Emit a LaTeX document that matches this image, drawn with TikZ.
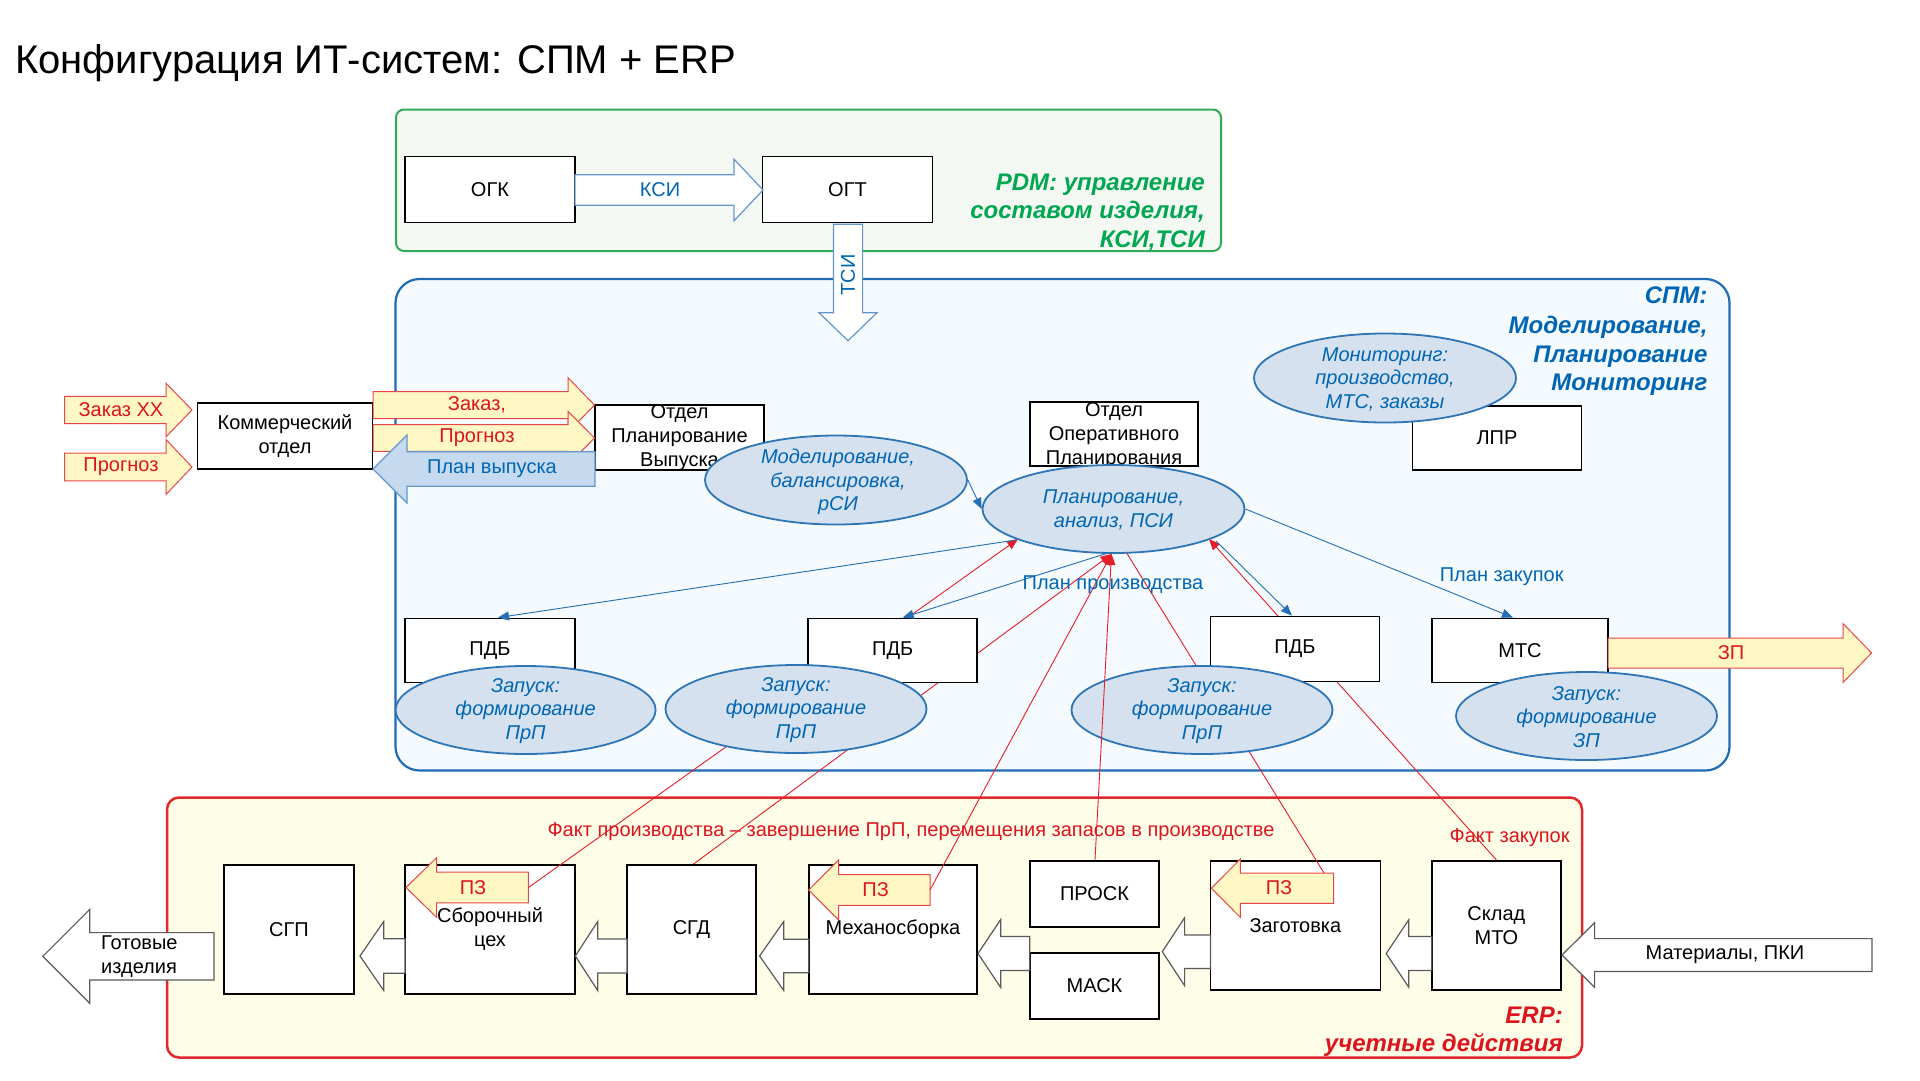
\documentclass[tikz,border=0pt]{standalone}
\usepackage{fontspec}
\setmainfont{Liberation Sans}
\usetikzlibrary{shapes.geometric,arrows.meta}
\definecolor{spmblue}{RGB}{0,102,179}
\definecolor{spmline}{RGB}{31,108,180}
\definecolor{spmfill}{RGB}{245,250,254}
\definecolor{ellfill}{RGB}{214,225,240}
\definecolor{ellline}{RGB}{46,117,182}
\definecolor{pdmline}{RGB}{50,170,90}
\definecolor{pdmfill}{RGB}{243,248,243}
\definecolor{pdmtext}{RGB}{0,166,80}
\definecolor{erpline}{RGB}{225,40,45}
\definecolor{erpfill}{RGB}{254,253,232}
\definecolor{erptext}{RGB}{220,20,30}
\definecolor{yarrow}{RGB}{255,248,196}
\definecolor{yline}{RGB}{230,70,70}
\definecolor{barrowfill}{RGB}{197,217,239}
\definecolor{barrowline}{RGB}{100,150,205}
\definecolor{grayline}{RGB}{90,90,90}
\definecolor{rcon}{RGB}{230,30,40}
\definecolor{bcon}{RGB}{35,110,180}
\newcommand\fs[2]{\fontsize{#1}{#2}\selectfont}
\newcommand\blkarrow[7]{\path[#1] (#2,#5-#6) -- (#3,#5-#6) -- (#3,#5-#7) -- (#4,#5) -- (#3,#5+#7) -- (#3,#5+#6) -- (#2,#5+#6) -- cycle;}
\tikzset{
 box/.style={draw=black, line width=1.8pt, fill=white, inner sep=0pt, align=center, font=\fs{20}{24}},
 ell/.style={ellipse, draw=ellline, line width=1.8pt, fill=ellfill, inner sep=0pt},
 elltext/.style={align=center, text=spmblue, font=\fs{20}{23.5}\itshape, inner sep=0pt},
 yarr/.style={draw=yline, line width=1pt, fill=yarrow},
 barr/.style={draw=barrowline, line width=1.2pt, fill=barrowfill},
 warr/.style={draw=barrowline, line width=1.2pt, fill=white},
 garr/.style={draw=grayline, line width=1.2pt, fill=white},
 redlbl/.style={text=erptext, font=\fs{20}{24}, inner sep=0pt},
 bluelbl/.style={text=spmblue, font=\fs{20}{24}, inner sep=0pt},
 blacklbl/.style={text=black, font=\fs{20}{24}, inner sep=0pt},
 redline/.style={draw=rcon, line width=0.9pt},
 redarr/.style={draw=rcon, line width=0.9pt, -{Triangle[length=11pt,width=9pt]}},
 bluearr/.style={draw=bcon, line width=0.9pt, -{Triangle[length=11pt,width=9pt]}},
 hdr/.style={font=\fs{24}{29}\bfseries\itshape, inner sep=0pt, anchor=base east},
}
\begin{document}
\begin{tikzpicture}[x=1pt,y=-1pt]
\useasboundingbox[fill=white] (0,0) rectangle (1920,1080);
\node[anchor=base west, font=\fs{40}{46}, inner sep=0pt] (title) at (15,73) {Конфигурация ИТ-систем: СПМ + ERP};

% ---------- PDM ----------
\draw[draw=pdmline, fill=pdmfill, line width=2pt, rounded corners=8pt] (396,109.5) rectangle (1221,251);
\node[box, minimum width=170pt, minimum height=66pt] (ogk) at (490,189.5) {ОГК};
\node[box, minimum width=170pt, minimum height=66pt] (ogt) at (847.5,189.5) {ОГТ};
\blkarrow{warr}{575}{734}{763}{190}{15.3}{30.8}
\node[bluelbl] (ksi) at (660,190) {КСИ};
\node[hdr, text=pdmtext] (pdm1) at (1205,190) {PDM: управление};
\node[hdr, text=pdmtext] (pdm2) at (1205,218.5) {составом изделия,};
\node[hdr, text=pdmtext] (pdm3) at (1205,247) {КСИ,ТСИ};

% ---------- backgrounds ----------
\draw[draw=spmline, fill=spmfill, line width=2.2pt, rounded corners=24pt] (395.5,279) rectangle (1729.5,770.5);
\draw[draw=erpline, fill=erpfill, line width=2.5pt, rounded corners=12pt] (167,797.5) rectangle (1582,1057.5);

% ---------- ERP ----------
\node[box, minimum width=130pt, minimum height=129pt] (sgp) at (289,929.5) {СГП};
\node[box, minimum width=170pt, minimum height=129pt] (sbor) at (490,929.5) {Сборочный\\цех};
\node[box, minimum width=129pt, minimum height=129pt] (sgd) at (691.5,929.5) {СГД};
\node[box, minimum width=168pt, minimum height=129pt] (mekh) at (893,929.5) {Механосборка};
\node[box, minimum width=129.5pt, minimum height=66pt] (prosk) at (1094.5,893.7) {ПРОСК};
\node[box, minimum width=129.5pt, minimum height=66pt] (mask) at (1094.5,986) {МАСК};
\node[box, minimum width=170pt, minimum height=129pt] (zag) at (1295.4,925.3) {Заготовка};
\node[box, minimum width=129pt, minimum height=129pt] (sklad) at (1496.4,925.3) {Склад\\МТО};

\blkarrow{garr}{405}{383.7}{360}{956}{17.2}{34.5}
\blkarrow{garr}{627}{597.7}{575.3}{956}{17}{34.5}
\blkarrow{garr}{808.7}{783.7}{759.6}{956}{16.7}{34.5}
\blkarrow{garr}{1029.7}{1000.7}{978}{953.5}{17}{34}
\blkarrow{garr}{1210.5}{1184.6}{1162.3}{951.7}{16.7}{34}
\blkarrow{garr}{1431.7}{1408.7}{1386.2}{953.5}{17}{33.7}
\blkarrow{garr}{1872}{1594.6}{1562}{955}{16.4}{32.3}
\node[blacklbl] (mater) at (1725,955) {Материалы, ПКИ};
\blkarrow{garr}{214}{89.8}{42.8}{956.3}{23.7}{47}
\node[blacklbl, anchor=west, align=left] (gotov) at (101,956.3) {Готовые\\изделия};

\blkarrow{yarr}{528.4}{436.6}{406}{887.5}{15.3}{29.8}
\node[redlbl] (pz1) at (473,887.5) {ПЗ};
\blkarrow{yarr}{930}{838.6}{808.7}{890}{15.3}{30}
\node[redlbl] (pz2) at (875.7,890) {ПЗ};
\blkarrow{yarr}{1333.6}{1240.4}{1211.4}{888.2}{15.2}{29.2}
\node[redlbl] (pz3) at (1279,888) {ПЗ};
\coordinate (pz1end) at (528.4,887.5);
\coordinate (pz2end) at (930,890);
\coordinate (pz3end) at (1324,873);

\node[redlbl] (fakt1) at (911,831.5) {Факт производства – завершение ПрП, перемещения запасов в производстве};
\node[redlbl] (fakt2) at (1509.6,838) {Факт закупок};
\node[hdr, text=erptext] (erp1) at (1563,1023) {ERP:};
\node[hdr, text=erptext] (erp2) at (1563,1051) {учетные действия};

% ---------- SPM (front group 1) ----------
\node[box, minimum width=168pt, minimum height=64pt] (oop) at (1114,433.7) {};
\node[blacklbl, align=center] (oopt) at (1114,435.5) {Отдел\\Оперативного\\Планирования};
\node[ell, minimum width=262pt, minimum height=88pt] (plan) at (1113.5,509) {};
\node[elltext] (plant) at (1113.5,510) {Планирование,\\анализ, ПСИ};

\node[box, minimum width=169pt, minimum height=64pt] (lpr) at (1497,438) {ЛПР};
\node[ell, minimum width=262pt, minimum height=89pt] (mon) at (1385,378) {};
\node[elltext] (mont) at (1385,379) {Мониторинг:\\производство,\\МТС, заказы};

\node[box, minimum width=169pt, minimum height=65pt] (opv) at (679.5,437.5) {};
\node[blacklbl, align=center] (opvt) at (679.5,438) {Отдел\\Планирование\\Выпуска};
\node[ell, minimum width=262pt, minimum height=89pt] (model) at (836,480) {};
\node[elltext] (modelt) at (838,482) {Моделирование,\\балансировка,\\рСИ};

\node[box, minimum width=170pt, minimum height=64pt] (pdb1) at (490,650.5) {ПДБ};
\node[ell, minimum width=260pt, minimum height=88pt] (e1) at (525.6,710) {};
\node[elltext] (e1t) at (525.6,711) {Запуск:\\формирование\\ПрП};
\node[box, minimum width=176pt, minimum height=64pt] (mts) at (1520,650.5) {МТС};
\node[ell, minimum width=261pt, minimum height=88pt] (e4) at (1586.5,716) {};
\node[elltext] (e4t) at (1586.5,717) {Запуск:\\формирование\\ЗП};

% ---------- red lines behind ----------
\coordinate (hitA) at (1018,539);
\coordinate (hitB) at (1111.5,554);
\coordinate (hitE) at (1126.7,553);
\coordinate (hitF) at (1209,539);
\draw[redarr] (pz1end) -- (hitA);
\draw[redarr] ([xshift=2pt]sgd.north) -- (hitB);
\draw[redarr] (pz2end) -- (hitB);
\draw[redline] (pz3end) -- (hitE);
\draw[redarr] (sklad.north) -- (hitF);

% ---------- SPM (front group 2) ----------
\node[box, minimum width=169pt, minimum height=64pt] (pdb2) at (892.7,650.5) {ПДБ};
\node[ell, minimum width=261pt, minimum height=88pt] (e2) at (796,709) {};
\node[elltext] (e2t) at (796,710) {Запуск:\\формирование\\ПрП};
\node[box, minimum width=169pt, minimum height=65pt] (pdb3) at (1295,649) {ПДБ};
\node[ell, minimum width=261pt, minimum height=88pt] (e3) at (1202,710) {};
\node[elltext] (e3t) at (1202,711) {Запуск:\\формирование\\ПрП};

\draw[redarr] ([xshift=0.5pt]prosk.north) -- (hitB);

% ---------- blue connectors ----------
\coordinate (bs1) at (1016,540);
\coordinate (bs2) at (1108,553);
\coordinate (bs3) at (1216,541);
\draw[bluearr] (model.east) -- (plan.west);
\draw[bluearr] (bs1) -- ([xshift=8pt]pdb1.north);
\draw[bluearr] (bs2) -- ([xshift=10pt]pdb2.north);
\draw[bluearr] (bs3) -- ([xshift=-3pt]pdb3.north);
\draw[bluearr] (plan.east) -- ([xshift=-7pt]mts.north);
\node[bluelbl] (lblpp) at (1113,585) {План производства};
\node[bluelbl] (lblpz) at (1501.7,577) {План закупок};

\node[hdr, text=spmblue] (spm1) at (1707.6,303) {СПМ:};
\node[hdr, text=spmblue] (spm2) at (1707.6,333) {Моделирование,};
\node[hdr, text=spmblue] (spm3) at (1707.6,362) {Планирование};
\node[hdr, text=spmblue] (spm4) at (1707.6,390) {Мониторинг};

% ---------- left arrows ----------
\node[box, minimum width=175pt, minimum height=66pt] (kom) at (285,436) {Коммерческий\\отдел};
\blkarrow{yarr}{64.5}{166}{192}{410}{13.7}{26.8}
\node[redlbl] (zxx) at (121,410) {Заказ XX};
\blkarrow{yarr}{64.5}{166}{192}{467}{13.8}{27.5}
\node[redlbl] (prg1) at (121,467) {Прогноз};
\blkarrow{yarr}{373}{568}{594.5}{405}{13.5}{27.3}
\node[redlbl] (zak) at (477,405) {Заказ,};
\blkarrow{yarr}{373}{568}{594.5}{438}{13.3}{26.7}
\node[redlbl] (prg2) at (477,438) {Прогноз};
\blkarrow{barr}{595}{407}{373}{469}{17.2}{34}
\node[bluelbl] (plv) at (492,469) {План выпуска};

% ---------- ЗП and ТСИ ----------
\blkarrow{yarr}{1608}{1843}{1871.6}{653}{15}{29.5}
\node[redlbl] (zp) at (1731,653) {ЗП};
\path[warr] (833.4,224.3) -- (862.6,224.3) -- (862.6,312.7) -- (877,312.7) -- (848,340.7) -- (819,312.7) -- (833.4,312.7) -- cycle;
\node[bluelbl, rotate=90] (tsi) at (848,275) {ТСИ};
\end{tikzpicture}
\end{document}
